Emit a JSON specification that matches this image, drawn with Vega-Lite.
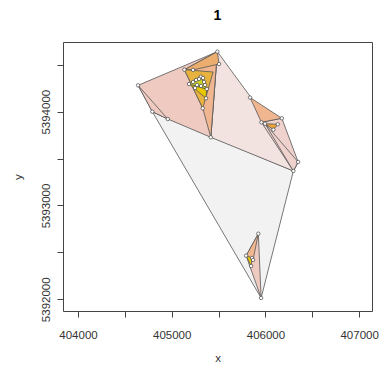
{
  "$schema": "https://vega.github.io/schema/vega-lite/v6.json",
  "width": 309,
  "height": 269,
  "autosize": {"type": "none"},
  "padding": {"left": 63, "top": 42, "right": 15, "bottom": 58},
  "background": "white",
  "title": {"text": "1", "fontSize": 14, "fontWeight": "bold", "font": "Liberation Sans", "color": "#000", "offset": 19, "anchor": "middle"},
  "config": {
    "view": {"stroke": "#444", "strokeWidth": 1},
    "axis": {"grid": false, "domain": false, "tickSize": 6, "tickColor": "#444", "labelFont": "Liberation Sans", "labelFontSize": 11.5, "labelColor": "#333", "titleFont": "Liberation Sans", "titleFontSize": 11.5, "titleFontWeight": "normal", "titleColor": "#333"}
  },
  "datasets": {
    "polys": [
      {"poly": "p1", "kind": "grey", "lvl": 1, "i": 0, "x": 404793, "y": 5394000},
      {"poly": "p1", "kind": "grey", "lvl": 1, "i": 1, "x": 406298, "y": 5393368},
      {"poly": "p1", "kind": "grey", "lvl": 1, "i": 2, "x": 405954, "y": 5392014},
      {"poly": "p1", "kind": "grey", "lvl": 1, "i": 3, "x": 404793, "y": 5394000},
      {"poly": "p2", "kind": "lpink", "lvl": 1, "i": 0, "x": 405487, "y": 5394640},
      {"poly": "p2", "kind": "lpink", "lvl": 1, "i": 1, "x": 406349, "y": 5393464},
      {"poly": "p2", "kind": "lpink", "lvl": 1, "i": 2, "x": 406298, "y": 5393368},
      {"poly": "p2", "kind": "lpink", "lvl": 1, "i": 3, "x": 405417, "y": 5393727},
      {"poly": "p2", "kind": "lpink", "lvl": 1, "i": 4, "x": 405487, "y": 5394640},
      {"poly": "p3", "kind": "pink", "lvl": 1, "i": 0, "x": 404641, "y": 5394281},
      {"poly": "p3", "kind": "pink", "lvl": 1, "i": 1, "x": 405487, "y": 5394640},
      {"poly": "p3", "kind": "pink", "lvl": 1, "i": 2, "x": 405417, "y": 5393727},
      {"poly": "p3", "kind": "pink", "lvl": 1, "i": 3, "x": 404958, "y": 5393922},
      {"poly": "p3", "kind": "pink", "lvl": 1, "i": 4, "x": 404793, "y": 5394000},
      {"poly": "p3", "kind": "pink", "lvl": 1, "i": 5, "x": 404641, "y": 5394281},
      {"poly": "p4", "kind": "dpink", "lvl": 2, "i": 0, "x": 405957, "y": 5393887},
      {"poly": "p4", "kind": "dpink", "lvl": 2, "i": 1, "x": 406175, "y": 5393930},
      {"poly": "p4", "kind": "dpink", "lvl": 2, "i": 2, "x": 406349, "y": 5393464},
      {"poly": "p4", "kind": "dpink", "lvl": 2, "i": 3, "x": 406298, "y": 5393368},
      {"poly": "p4", "kind": "dpink", "lvl": 2, "i": 4, "x": 405957, "y": 5393887},
      {"poly": "p5", "kind": "pink", "lvl": 2, "i": 0, "x": 404641, "y": 5394281},
      {"poly": "p5", "kind": "pink", "lvl": 2, "i": 1, "x": 404958, "y": 5393922},
      {"poly": "p5", "kind": "pink", "lvl": 2, "i": 2, "x": 404793, "y": 5394000},
      {"poly": "p5", "kind": "pink", "lvl": 2, "i": 3, "x": 404641, "y": 5394281},
      {"poly": "p6", "kind": "salmon", "lvl": 2, "i": 0, "x": 405135, "y": 5394448},
      {"poly": "p6", "kind": "salmon", "lvl": 2, "i": 1, "x": 405487, "y": 5394640},
      {"poly": "p6", "kind": "salmon", "lvl": 2, "i": 2, "x": 405417, "y": 5393727},
      {"poly": "p6", "kind": "salmon", "lvl": 2, "i": 3, "x": 405331, "y": 5394036},
      {"poly": "p6", "kind": "salmon", "lvl": 2, "i": 4, "x": 405135, "y": 5394448},
      {"poly": "p7", "kind": "pink", "lvl": 2, "i": 0, "x": 405924, "y": 5392699},
      {"poly": "p7", "kind": "pink", "lvl": 2, "i": 1, "x": 405954, "y": 5392014},
      {"poly": "p7", "kind": "pink", "lvl": 2, "i": 2, "x": 405794, "y": 5392465},
      {"poly": "p7", "kind": "pink", "lvl": 2, "i": 3, "x": 405924, "y": 5392699},
      {"poly": "p8", "kind": "orange", "lvl": 3, "i": 0, "x": 405135, "y": 5394448},
      {"poly": "p8", "kind": "orange", "lvl": 3, "i": 1, "x": 405487, "y": 5394640},
      {"poly": "p8", "kind": "orange", "lvl": 3, "i": 2, "x": 405505, "y": 5394508},
      {"poly": "p8", "kind": "orange", "lvl": 3, "i": 3, "x": 405228, "y": 5394445},
      {"poly": "p8", "kind": "orange", "lvl": 3, "i": 4, "x": 405135, "y": 5394448},
      {"poly": "p9", "kind": "salmon", "lvl": 3, "i": 0, "x": 405836, "y": 5394151},
      {"poly": "p9", "kind": "salmon", "lvl": 3, "i": 1, "x": 406175, "y": 5393930},
      {"poly": "p9", "kind": "salmon", "lvl": 3, "i": 2, "x": 405957, "y": 5393887},
      {"poly": "p9", "kind": "salmon", "lvl": 3, "i": 3, "x": 405836, "y": 5394151},
      {"poly": "p10", "kind": "salmon", "lvl": 3, "i": 0, "x": 405924, "y": 5392699},
      {"poly": "p10", "kind": "salmon", "lvl": 3, "i": 1, "x": 405794, "y": 5392465},
      {"poly": "p10", "kind": "salmon", "lvl": 3, "i": 2, "x": 405868, "y": 5392419},
      {"poly": "p10", "kind": "salmon", "lvl": 3, "i": 3, "x": 405924, "y": 5392699},
      {"poly": "p11", "kind": "dpink", "lvl": 3, "i": 0, "x": 405996, "y": 5393872},
      {"poly": "p11", "kind": "dpink", "lvl": 3, "i": 1, "x": 406349, "y": 5393464},
      {"poly": "p11", "kind": "dpink", "lvl": 3, "i": 2, "x": 406298, "y": 5393368},
      {"poly": "p11", "kind": "dpink", "lvl": 3, "i": 3, "x": 405996, "y": 5393872},
      {"poly": "p12", "kind": "gold", "lvl": 4, "i": 0, "x": 405135, "y": 5394448},
      {"poly": "p12", "kind": "gold", "lvl": 4, "i": 1, "x": 405441, "y": 5394423},
      {"poly": "p12", "kind": "gold", "lvl": 4, "i": 2, "x": 405331, "y": 5394036},
      {"poly": "p12", "kind": "gold", "lvl": 4, "i": 3, "x": 405135, "y": 5394448},
      {"poly": "p13", "kind": "dorange", "lvl": 4, "i": 0, "x": 405996, "y": 5393872},
      {"poly": "p13", "kind": "dorange", "lvl": 4, "i": 1, "x": 406132, "y": 5393866},
      {"poly": "p13", "kind": "dorange", "lvl": 4, "i": 2, "x": 406085, "y": 5393808},
      {"poly": "p13", "kind": "dorange", "lvl": 4, "i": 3, "x": 405996, "y": 5393872},
      {"poly": "p14", "kind": "yellow", "lvl": 4, "i": 0, "x": 405794, "y": 5392465},
      {"poly": "p14", "kind": "yellow", "lvl": 4, "i": 1, "x": 405858, "y": 5392440},
      {"poly": "p14", "kind": "yellow", "lvl": 4, "i": 2, "x": 405847, "y": 5392355},
      {"poly": "p14", "kind": "yellow", "lvl": 4, "i": 3, "x": 405794, "y": 5392465},
      {"poly": "p15", "kind": "yellow", "lvl": 5, "i": 0, "x": 405185, "y": 5394295},
      {"poly": "p15", "kind": "yellow", "lvl": 5, "i": 1, "x": 405374, "y": 5394242},
      {"poly": "p15", "kind": "yellow", "lvl": 5, "i": 2, "x": 405366, "y": 5394143},
      {"poly": "p15", "kind": "yellow", "lvl": 5, "i": 3, "x": 405185, "y": 5394295},
      {"poly": "p16", "kind": "ygreen", "lvl": 5, "i": 0, "x": 405185, "y": 5394295},
      {"poly": "p16", "kind": "ygreen", "lvl": 5, "i": 1, "x": 405310, "y": 5394373},
      {"poly": "p16", "kind": "ygreen", "lvl": 5, "i": 2, "x": 405374, "y": 5394242},
      {"poly": "p16", "kind": "ygreen", "lvl": 5, "i": 3, "x": 405185, "y": 5394295}
    ],
    "pts": [
      {"x": 404641, "y": 5394281}, {"x": 405487, "y": 5394640}, {"x": 405505, "y": 5394508},
      {"x": 405135, "y": 5394448}, {"x": 404793, "y": 5394000}, {"x": 404958, "y": 5393922},
      {"x": 405417, "y": 5393727}, {"x": 406298, "y": 5393368}, {"x": 406349, "y": 5393464},
      {"x": 405836, "y": 5394151}, {"x": 406175, "y": 5393930}, {"x": 405957, "y": 5393887},
      {"x": 405996, "y": 5393872}, {"x": 406132, "y": 5393866}, {"x": 406085, "y": 5393808},
      {"x": 405954, "y": 5392014}, {"x": 405924, "y": 5392699}, {"x": 405794, "y": 5392465},
      {"x": 405858, "y": 5392440}, {"x": 405847, "y": 5392355}, {"x": 405868, "y": 5392419},
      {"x": 405331, "y": 5394036}, {"x": 405366, "y": 5394143}, {"x": 405228, "y": 5394445},
      {"x": 405185, "y": 5394295}, {"x": 405374, "y": 5394242}, {"x": 405310, "y": 5394373},
      {"x": 405228, "y": 5394317}, {"x": 405260, "y": 5394338}, {"x": 405292, "y": 5394349},
      {"x": 405334, "y": 5394359}, {"x": 405345, "y": 5394317}, {"x": 405270, "y": 5394285},
      {"x": 405313, "y": 5394274}, {"x": 405356, "y": 5394285}, {"x": 405249, "y": 5394253}
    ]
  },
  "encoding": {
    "x": {"field": "x", "type": "quantitative", "scale": {"domain": [403840, 407137], "nice": false, "zero": false},
      "axis": {"values": [404000, 404500, 405000, 405500, 406000, 406500, 407000], "labelExpr": "datum.value % 1000 === 0 ? format(datum.value, 'd') : ''", "labelPadding": 12, "title": "x", "titleX": 154.5, "titleY": 47, "titleAlign": "center", "titleBaseline": "middle", "titleAnchor": null}},
    "y": {"field": "y", "type": "quantitative", "scale": {"domain": [5391875, 5394743], "nice": false, "zero": false},
      "axis": {"values": [5392000, 5392500, 5393000, 5393500, 5394000, 5394500], "labelExpr": "datum.value % 1000 === 0 ? format(datum.value, 'd') : ''", "labelAngle": -90, "labelAlign": "center", "labelBaseline": "middle", "labelPadding": 11, "title": "y", "titleX": -45, "titleY": 134.5, "titleAngle": -90, "titleAlign": "center", "titleBaseline": "middle", "titleAnchor": null}}
  },
  "layer": [
    {"data": {"name": "polys"}, "transform": [{"filter": "datum.lvl == 1"}], "mark": {"type": "line", "stroke": "#555", "strokeWidth": 0.8}, "encoding": {"fill": {"field": "kind", "type": "nominal", "scale": {"domain": ["grey", "lpink", "dpink", "pink", "salmon", "orange", "gold", "dorange", "yellow", "ygreen"], "range": ["#F2F2F2", "#F2E3E1", "#EFD2CD", "#EFCAC1", "#EFB690", "#EBAE6E", "#E8B23E", "#E9A43E", "#E8C700", "#CCD61E"]}, "legend": null}, "detail": {"field": "poly"}, "order": {"field": "i", "type": "quantitative"}}},
    {"data": {"name": "polys"}, "transform": [{"filter": "datum.lvl == 2"}], "mark": {"type": "line", "stroke": "#555", "strokeWidth": 0.8}, "encoding": {"fill": {"field": "kind", "type": "nominal", "legend": null}, "detail": {"field": "poly"}, "order": {"field": "i", "type": "quantitative"}}},
    {"data": {"name": "polys"}, "transform": [{"filter": "datum.lvl == 3"}], "mark": {"type": "line", "stroke": "#555", "strokeWidth": 0.8}, "encoding": {"fill": {"field": "kind", "type": "nominal", "legend": null}, "detail": {"field": "poly"}, "order": {"field": "i", "type": "quantitative"}}},
    {"data": {"name": "polys"}, "transform": [{"filter": "datum.lvl == 4"}], "mark": {"type": "line", "stroke": "#555", "strokeWidth": 0.8}, "encoding": {"fill": {"field": "kind", "type": "nominal", "legend": null}, "detail": {"field": "poly"}, "order": {"field": "i", "type": "quantitative"}}},
    {"data": {"name": "polys"}, "transform": [{"filter": "datum.lvl == 5"}], "mark": {"type": "line", "stroke": "#555", "strokeWidth": 0.8}, "encoding": {"fill": {"field": "kind", "type": "nominal", "legend": null}, "detail": {"field": "poly"}, "order": {"field": "i", "type": "quantitative"}}},
    {"data": {"name": "pts"}, "mark": {"type": "point", "filled": true, "fill": "white", "stroke": "#444", "strokeWidth": 0.7, "size": 12, "opacity": 1}}
  ]
}
